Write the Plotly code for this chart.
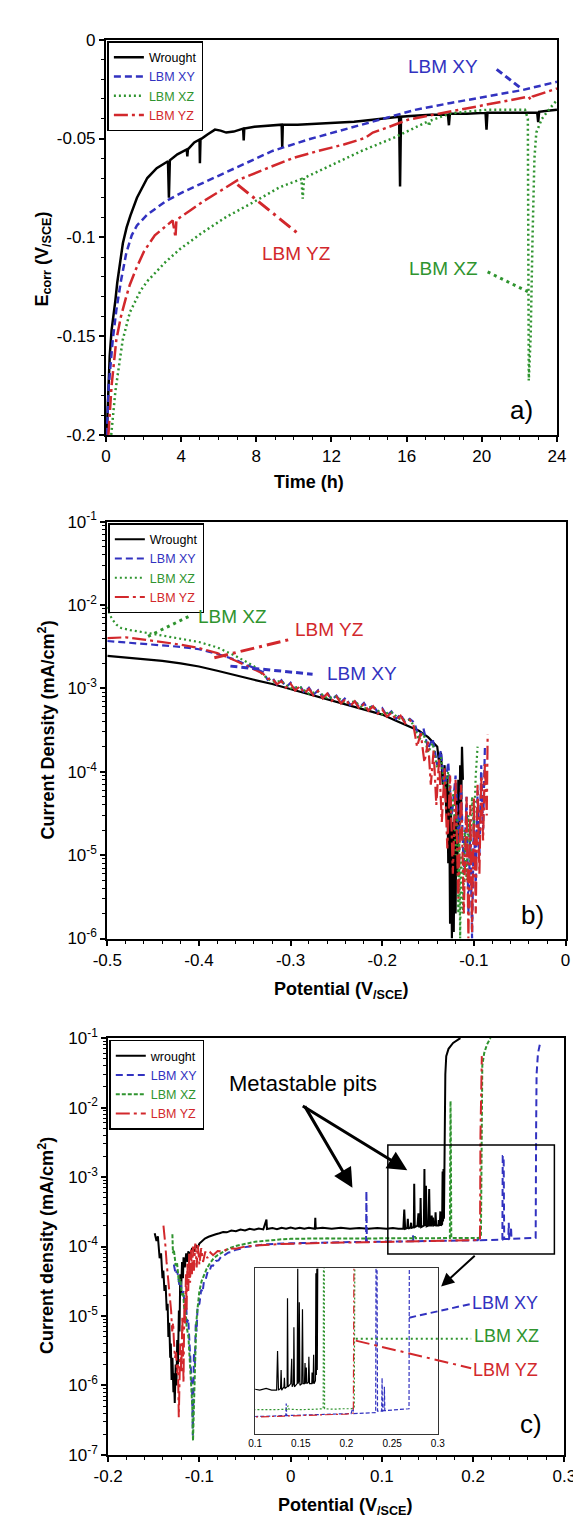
import plotly.graph_objects as go

W, H = 581, 1522
FONT = "Liberation Sans, Arial, Helvetica, sans-serif"
C_BLACK = "#000000"
C_BLUE = "#3232c0"
C_GREEN = "#2f942f"
C_RED = "#d2282c"

DASH_XY = "7px,4px"
DASH_XZ_DOT = "2px,3px"
DASH_XZ_SHORT = "4px,2px"
DASH_YZ = "14px,4px,3px,4px"

# ---------------- panel a : Ecorr vs time ----------------
A_WR_T = [0.04, 0.12, 0.2, 0.3, 0.4, 0.5, 0.6, 0.75, 0.9, 1.1, 1.3, 1.65, 2.2, 2.7, 3.3, 3.35, 3.4, 3.8, 4.3, 4.33,
          4.36, 4.7, 4.98, 5.0, 5.03, 5.4, 5.8, 6.1, 6.4, 6.8, 7.3, 7.33, 7.36, 7.9, 8.6, 9.35, 9.38, 9.41, 10.2, 11.2,
          12.2, 13.2, 14.2, 15.0, 15.6, 15.65, 15.7, 16.4, 17.3, 18.2, 18.25, 18.3, 19.2, 20.2, 20.25, 20.3, 21.2, 22.1,
          22.95, 23.0, 23.05, 23.5, 24.0]
A_WR_E = [-0.200, -0.180, -0.160, -0.147, -0.140, -0.132, -0.123, -0.112, -0.103, -0.095, -0.089, -0.080, -0.070,
          -0.065, -0.0615, -0.080, -0.061, -0.058, -0.0555, -0.059, -0.0555, -0.052, -0.0505, -0.0625, -0.0505, -0.048,
          -0.0455, -0.046, -0.047, -0.0465, -0.045, -0.051, -0.045, -0.044, -0.0435, -0.043, -0.0547, -0.043, -0.043,
          -0.0425, -0.042, -0.0415, -0.0405, -0.0395, -0.039, -0.0743, -0.039, -0.0385, -0.038, -0.038, -0.0433,
          -0.0375, -0.0375, -0.037, -0.0455, -0.037, -0.037, -0.037, -0.037, -0.0417, -0.0365, -0.036, -0.0355]

A_XY_T = [0.04, 0.15, 0.36, 0.55, 0.8, 1.08, 1.37, 1.65, 2.2, 3.17, 4.12, 5.45, 6.96, 8.86, 10.76, 12.66, 14.55,
          16.45, 18.35, 20.25, 22.15, 24.0]
A_XY_E = [-0.200, -0.175, -0.152, -0.137, -0.122, -0.108, -0.099, -0.094, -0.0885, -0.0818, -0.077, -0.0713, -0.0647,
          -0.0563, -0.0505, -0.0455, -0.0405, -0.0355, -0.032, -0.0288, -0.0255, -0.0213]

A_XZ_T = [0.28, 0.5, 0.89, 1.27, 1.84, 2.22, 3.17, 3.93, 5.07, 6.4, 7.7, 9.24, 10.4, 10.47, 10.54, 12.1, 13.6, 15.3,
          16.45, 17.15, 17.2, 17.25, 18.35, 20.25, 22.3, 22.45, 22.5, 22.6, 22.7, 22.8, 22.9, 23.2, 23.6, 24.0]
A_XZ_E = [-0.200, -0.178, -0.152, -0.138, -0.127, -0.122, -0.1125, -0.106, -0.098, -0.0897, -0.083, -0.0747, -0.0705,
          -0.0805, -0.070, -0.063, -0.0563, -0.0497, -0.0447, -0.0413, -0.0438, -0.041, -0.0372, -0.0355, -0.0355,
          -0.040, -0.1725, -0.150, -0.100, -0.060, -0.047, -0.040, -0.035, -0.0305]

A_YZ_T = [0.13, 0.3, 0.55, 0.8, 1.08, 1.27, 1.6, 2.03, 2.6, 3.55, 3.7, 3.75, 4.5, 5.26, 6.4, 6.96, 8.67, 10.0, 11.3,
          12.66, 13.8, 14.2, 14.9, 16.07, 17.4, 19.3, 21.2, 22.5, 22.6, 22.7, 24.0]
A_YZ_E = [-0.200, -0.175, -0.152, -0.140, -0.130, -0.124, -0.116, -0.107, -0.099, -0.0915, -0.100, -0.0912, -0.0863,
          -0.0813, -0.0747, -0.0713, -0.0647, -0.0597, -0.0563, -0.053, -0.0497, -0.047, -0.0447, -0.0405, -0.038,
          -0.0347, -0.0313, -0.0288, -0.0305, -0.0288, -0.0247]

# ---------------- panel b : cathodic polarisation ----------------
B_WR_V = [-0.500, -0.480, -0.460, -0.440, -0.420, -0.400, -0.380, -0.360, -0.340, -0.320, -0.300, -0.280, -0.260,
          -0.240, -0.220, -0.200, -0.185, -0.170, -0.160, -0.150, -0.145, -0.140,
          -0.138, -0.136, -0.134, -0.132, -0.130, -0.129, -0.128, -0.127, -0.126, -0.125, -0.124, -0.123, -0.122,
          -0.121, -0.120, -0.119, -0.118, -0.117, -0.116, -0.115, -0.114, -0.113, -0.112]
B_WR_I = [2.45e-3, 2.35e-3, 2.25e-3, 2.14e-3, 2.0e-3, 1.83e-3, 1.63e-3, 1.43e-3, 1.27e-3, 1.13e-3, 9.8e-4, 8.5e-4,
          7.4e-4, 6.4e-4, 5.6e-4, 4.85e-4, 4.1e-4, 3.5e-4, 3.1e-4, 2.6e-4, 2.3e-4, 2.0e-4,
          1.3e-4, 1.7e-4, 7e-5, 1.2e-4, 3e-5, 9e-5, 8e-6, 6e-5, 1.5e-6, 4e-5, 1e-6, 2.5e-5, 1.2e-6, 3e-5, 2e-6, 5e-5,
          6e-6, 8e-5, 1.5e-5, 1.2e-4, 3e-5, 2e-4, 8e-5]

B_MID_V = [-0.330, -0.325, -0.320, -0.315, -0.310, -0.305, -0.300, -0.295, -0.290, -0.285, -0.280, -0.275, -0.270,
           -0.265, -0.260, -0.255, -0.250, -0.245, -0.240, -0.235, -0.230, -0.225, -0.220, -0.215, -0.210, -0.205,
           -0.200, -0.195, -0.190, -0.185, -0.180, -0.175, -0.170]

B_XY_V = [-0.500, -0.480, -0.460, -0.440, -0.420, -0.400, -0.380, -0.360, -0.340] + B_MID_V + \
         [-0.165, -0.160, -0.155, -0.150, -0.145, -0.140, -0.136, -0.132, -0.128, -0.124, -0.120, -0.117, -0.114,
          -0.111, -0.108, -0.106, -0.104, -0.102, -0.100, -0.098, -0.096, -0.094, -0.092, -0.090, -0.088]
B_XY_I = [3.7e-3, 3.55e-3, 3.42e-3, 3.3e-3, 3.15e-3, 2.95e-3, 2.6e-3, 2.2e-3, 1.75e-3,
          1.57e-3, 1.27e-3, 1.35e-3, 1.11e-3, 1.25e-3, 1.03e-3, 1.17e-3, 0.96e-3, 1.08e-3, 0.89e-3, 1.02e-3, 0.84e-3,
          0.95e-3, 0.78e-3, 0.89e-3, 0.73e-3, 0.82e-3, 0.68e-3, 0.77e-3, 0.63e-3, 0.71e-3, 0.59e-3, 0.67e-3, 0.55e-3,
          0.63e-3, 0.52e-3, 0.58e-3, 0.47e-3, 0.53e-3, 0.43e-3, 0.49e-3, 0.39e-3, 0.43e-3,
          3.9e-4, 2.6e-4, 3.3e-4, 1.9e-4, 2.5e-4, 1.2e-4, 1.8e-4, 6e-5, 1.3e-4, 3e-5, 9e-5, 1.5e-5, 7e-5, 6e-6, 5e-5,
          2e-6, 2e-5, 1e-6, 3e-5, 4e-6, 6e-5, 1e-5, 1.2e-4, 2e-5, 2e-4]

B_XZ_V = [-0.500, -0.497, -0.494, -0.490, -0.485, -0.475, -0.460, -0.440, -0.420, -0.400, -0.380, -0.360, -0.340,
          -0.330, -0.320, -0.310, -0.300, -0.290, -0.280, -0.270, -0.260, -0.250, -0.240, -0.230, -0.220, -0.210,
          -0.200, -0.190, -0.180, -0.170,
          -0.165, -0.160, -0.155, -0.150, -0.145, -0.140, -0.136, -0.132, -0.128, -0.125, -0.122, -0.120, -0.118,
          -0.117, -0.116, -0.115, -0.114, -0.112, -0.110, -0.108, -0.106, -0.104, -0.102, -0.100, -0.098, -0.096]
B_XZ_I = [9.5e-3, 7.5e-3, 6.6e-3, 5.8e-3, 5.3e-3, 5.0e-3, 4.7e-3, 4.3e-3, 3.95e-3, 3.6e-3, 3.1e-3, 2.45e-3, 1.85e-3,
          1.45e-3, 1.2e-3, 1.22e-3, 1.0e-3, 1.05e-3, 0.86e-3, 0.92e-3, 0.76e-3, 0.80e-3, 0.66e-3, 0.70e-3, 0.57e-3,
          0.61e-3, 0.49e-3, 0.52e-3, 0.42e-3, 0.42e-3,
          3.5e-4, 2.4e-4, 2.9e-4, 1.7e-4, 2.2e-4, 1.1e-4, 1.5e-4, 6e-5, 1e-4, 3e-5, 6e-5, 1e-5, 3e-5, 2e-6, 1.5e-5,
          1e-6, 1e-5, 2e-6, 2e-5, 5e-6, 3e-5, 8e-6, 5e-5, 2e-5, 9e-5, 2e-4]

B_YZ_V = [-0.500, -0.480, -0.460, -0.440, -0.420, -0.400, -0.380, -0.360, -0.340] + B_MID_V + \
         [-0.166, -0.162, -0.158, -0.154, -0.150, -0.147, -0.144, -0.141, -0.138, -0.135, -0.132, -0.129, -0.126,
          -0.123, -0.120, -0.117, -0.114, -0.111, -0.108, -0.106, -0.104, -0.102, -0.100, -0.098, -0.096, -0.094,
          -0.092, -0.090, -0.088, -0.086, -0.085]
B_YZ_I = [4.0e-3, 4.1e-3, 3.85e-3, 3.6e-3, 3.35e-3, 3.05e-3, 2.65e-3, 2.15e-3, 1.7e-3,
          1.5e-3, 1.3e-3, 1.32e-3, 1.12e-3, 1.22e-3, 1.02e-3, 1.14e-3, 0.94e-3, 1.06e-3, 0.87e-3, 0.99e-3, 0.82e-3,
          0.93e-3, 0.76e-3, 0.87e-3, 0.71e-3, 0.80e-3, 0.66e-3, 0.75e-3, 0.61e-3, 0.70e-3, 0.57e-3, 0.65e-3, 0.54e-3,
          0.61e-3, 0.50e-3, 0.56e-3, 0.46e-3, 0.51e-3, 0.42e-3, 0.47e-3, 0.38e-3, 0.42e-3,
          3.6e-4, 2.0e-4, 2.9e-4, 1.3e-4, 2.3e-4, 7e-5, 1.8e-4, 4e-5, 1.4e-4, 2.5e-5, 1.1e-4, 1.2e-5, 9e-5, 6e-6,
          8e-5, 3e-6, 7e-5, 2e-6, 5e-5, 1e-6, 4e-5, 1.2e-6, 5e-5, 2e-6, 7e-5, 6e-6, 9e-5, 1.5e-5, 1.3e-4, 3e-5, 2.8e-4]

# ---------------- panel c : anodic polarisation ----------------
C_WR_V = [-0.149, -0.147, -0.1455, -0.1436, -0.142, -0.1405, -0.1395, -0.1383, -0.137, -0.1358, -0.1348, -0.134,
          -0.133, -0.132, -0.1313, -0.1305, -0.1295, -0.1285, -0.128, -0.127, -0.126, -0.1252, -0.1243, -0.1235,
          -0.1225, -0.1218, -0.121, -0.1202, -0.119, -0.118, -0.1174, -0.116, -0.1145, -0.113, -0.1122, -0.110,
          -0.108, -0.106, -0.104, -0.102, -0.100,
          -0.098, -0.094, -0.090, -0.086, -0.082, -0.078, -0.074, -0.070, -0.065, -0.060, -0.055, -0.050, -0.045,
          -0.040, -0.035, -0.030, -0.0265, -0.026, -0.020, -0.015, -0.010, -0.005, 0.000, 0.005, 0.010, 0.015, 0.020,
          0.0265, 0.027, 0.0275, 0.035, 0.045, 0.055, 0.065, 0.075, 0.085, 0.095, 0.105, 0.112, 0.118,
          0.1235, 0.1245, 0.1255, 0.1278, 0.1284, 0.129, 0.1315, 0.132, 0.1325, 0.135, 0.1354, 0.136, 0.139, 0.140,
          0.1405, 0.142, 0.1424, 0.143, 0.146, 0.1466, 0.147, 0.1478, 0.1483, 0.149, 0.151, 0.1518, 0.1525, 0.154,
          0.1546, 0.155, 0.156, 0.1565, 0.1583, 0.1588, 0.1595, 0.162, 0.1623, 0.163, 0.1635, 0.164, 0.1645, 0.166,
          0.1665, 0.167, 0.1675, 0.168, 0.1685, 0.169, 0.1695, 0.1705, 0.173, 0.178, 0.186]
C_WR_I = [1.55e-4, 1.2e-4, 1.4e-4, 6.8e-5, 8e-5, 3.5e-5, 4.5e-5, 2.3e-5, 2.8e-5, 1.2e-5, 1.5e-5, 5e-6, 8e-6, 2.5e-6,
          4e-6, 1.2e-6, 2.5e-6, 8e-7, 1.5e-6, 5.6e-7, 2e-6, 1e-6, 4.5e-6, 2e-6, 1.2e-5, 6e-6, 4e-5, 2e-5, 6e-5,
          3.5e-5, 7e-5, 5e-5, 8e-5, 6e-5, 8.5e-5, 7.5e-5, 9.5e-5, 8.5e-5, 1.05e-4, 9.5e-5, 1.1e-4,
          1.17e-4, 1.3e-4, 1.38e-4, 1.45e-4, 1.5e-4, 1.55e-4, 1.62e-4, 1.6e-4, 1.7e-4, 1.66e-4, 1.76e-4, 1.7e-4,
          1.8e-4, 1.74e-4, 1.82e-4, 1.76e-4, 2.45e-4, 1.78e-4, 1.84e-4, 1.78e-4, 1.86e-4, 1.8e-4, 1.87e-4, 1.8e-4,
          1.86e-4, 1.8e-4, 1.86e-4, 1.8e-4, 2.6e-4, 1.82e-4, 1.86e-4, 1.8e-4, 1.86e-4, 1.8e-4, 1.85e-4, 1.8e-4,
          1.85e-4, 1.8e-4, 1.85e-4, 1.8e-4,
          1.8e-4, 3.4e-4, 1.8e-4, 1.85e-4, 2.5e-4, 1.8e-4, 1.9e-4, 2.2e-4, 1.85e-4, 1.9e-4, 8e-4, 1.9e-4, 2.0e-4,
          3.0e-4, 1.9e-4, 2.0e-4, 5e-4, 1.9e-4, 2.0e-4, 1.3e-3, 2.0e-4, 2.1e-4, 7.5e-4, 1.95e-4, 2.0e-4, 6.7e-4,
          2.0e-4, 2.0e-4, 2.8e-4, 2.0e-4, 2.6e-4, 2.0e-4, 2.05e-4, 3.1e-4, 2.0e-4, 2.0e-4, 2.4e-4, 2.0e-4, 2.05e-4,
          3.2e-4, 2.0e-4, 2.1e-4, 1.2e-3, 2.3e-4, 1.3e-3, 2.5e-4, 3e-3, 1e-2, 3e-2, 5.5e-2, 7e-2, 8.5e-2, 1e-1]

C_XY_V = [-0.128, -0.126, -0.1243, -0.122, -0.1205, -0.119, -0.1175, -0.116, -0.1146, -0.1135, -0.1122, -0.111,
          -0.110, -0.109, -0.108, -0.1072, -0.1065, -0.106, -0.105, -0.104, -0.103, -0.102, -0.100, -0.098, -0.0965,
          -0.095, -0.093, -0.091, -0.089, -0.087, -0.085, -0.082, -0.079, -0.076, -0.072, -0.068, -0.064, -0.060,
          -0.055, -0.050, -0.045, -0.040, -0.035, -0.030, -0.025, -0.020, -0.010, 0.000, 0.010, 0.020, 0.030, 0.040,
          0.050, 0.060, 0.070, 0.080, 0.0826, 0.083, 0.0835, 0.090, 0.100, 0.110, 0.120, 0.130, 0.1335, 0.134,
          0.1345, 0.150, 0.170, 0.190, 0.205, 0.207, 0.208, 0.220, 0.232, 0.2324, 0.2334, 0.234, 0.236, 0.2385,
          0.239, 0.2395, 0.241, 0.2415, 0.242, 0.250, 0.260, 0.2685, 0.269, 0.2695, 0.271, 0.273]
C_XY_I = [5.5e-5, 4e-5, 4.5e-5, 2.8e-5, 3.2e-5, 2e-5, 2.3e-5, 1.3e-5, 1.5e-5, 8e-6, 9e-6, 4e-6, 3.5e-6, 1.6e-6, 8e-7,
          1.9e-7, 6e-7, 3e-6, 2e-6, 8e-6, 6e-6, 1.4e-5, 1.5e-5, 2.4e-5, 2.2e-5, 3.2e-5, 3.4e-5, 4.3e-5, 4.4e-5,
          5.3e-5, 5.3e-5, 6.2e-5, 6.3e-5, 7.2e-5, 7.6e-5, 8.2e-5, 8.4e-5, 9.0e-5, 9.3e-5, 9.8e-5, 1.0e-4, 1.03e-4,
          1.05e-4, 1.07e-4, 1.08e-4, 1.09e-4, 1.1e-4, 1.11e-4, 1.12e-4, 1.13e-4, 1.14e-4, 1.14e-4, 1.15e-4, 1.15e-4,
          1.16e-4, 1.16e-4, 1.16e-4, 6.3e-4, 1.16e-4, 1.17e-4, 1.17e-4, 1.18e-4, 1.18e-4, 1.19e-4, 1.19e-4,
          1.45e-4, 1.19e-4, 1.2e-4, 1.21e-4, 1.22e-4, 1.23e-4, 1.35e-4, 1.23e-4, 1.24e-4, 1.25e-4, 2.0e-3, 2.0e-3,
          1.28e-4, 1.28e-4, 1.28e-4, 2.2e-4, 1.28e-4, 1.29e-4, 1.9e-4, 1.29e-4, 1.3e-4, 1.31e-4, 1.33e-4, 5e-3,
          3e-2, 6e-2, 8e-2]

C_XZ_V = [-0.1296, -0.129, -0.128, -0.126, -0.1245, -0.1226, -0.121, -0.1192, -0.1178, -0.1165, -0.115, -0.114,
          -0.112, -0.1104, -0.1095, -0.1087, -0.1078, -0.107, -0.1062, -0.1052, -0.1043, -0.1035, -0.102, -0.100,
          -0.0975, -0.0948, -0.092, -0.089, -0.0843, -0.080, -0.075, -0.0669, -0.060, -0.050, -0.039, -0.030, -0.020,
          -0.010, 0.000, 0.020, 0.040, 0.060, 0.080, 0.100, 0.120, 0.135, 0.136, 0.137, 0.150, 0.165, 0.1745, 0.175,
          0.1752, 0.1755, 0.176, 0.185, 0.195, 0.205, 0.2085, 0.209, 0.2095, 0.210, 0.212, 0.215, 0.219]
C_XZ_I = [1.5e-4, 8e-5, 9e-5, 5.3e-5, 5.8e-5, 3.1e-5, 3.4e-5, 2e-5, 2.2e-5, 1.2e-5, 1.1e-5, 7e-6, 5e-6, 2.5e-6,
          1.6e-6, 8.5e-7, 5e-7, 1.6e-7, 4e-7, 1.1e-6, 3e-6, 7.8e-6, 1.3e-5, 2.3e-5, 3.2e-5, 4e-5, 4.8e-5, 5.6e-5,
          6.8e-5, 7.5e-5, 8.3e-5, 9.5e-5, 1.02e-4, 1.1e-4, 1.17e-4, 1.2e-4, 1.24e-4, 1.27e-4, 1.29e-4, 1.31e-4,
          1.31e-4, 1.3e-4, 1.31e-4, 1.3e-4, 1.31e-4, 1.32e-4, 1.4e-4, 1.32e-4, 1.31e-4, 1.32e-4, 1.33e-4, 5e-3,
          1.24e-2, 5e-3, 1.33e-4, 1.32e-4, 1.33e-4, 1.33e-4, 1.35e-4, 3e-3, 2e-2, 4e-2, 6e-2, 8e-2, 1e-1]

C_YZ_V = [-0.1394, -0.1385, -0.1373, -0.136, -0.1348, -0.1335, -0.1322, -0.131, -0.1298, -0.1288, -0.128, -0.1268,
          -0.1255, -0.1245, -0.1235, -0.1226, -0.1218, -0.121, -0.1198, -0.1187, -0.1174, -0.1165, -0.1157, -0.1148,
          -0.114, -0.1132, -0.1122, -0.1112, -0.1102, -0.1092, -0.1082, -0.107, -0.106, -0.1045, -0.103, -0.1017,
          -0.100, -0.098, -0.096, -0.0935, -0.0913, -0.088, -0.085, -0.080, -0.074, -0.068, -0.060, -0.050, -0.039,
          -0.030, -0.020, -0.010, 0.000, 0.020, 0.040, 0.060, 0.080, 0.100, 0.120, 0.140, 0.160, 0.180, 0.200,
          0.2075, 0.208, 0.2085, 0.209, 0.2095]
C_YZ_I = [2e-4, 1.3e-4, 1.05e-4, 6e-5, 4e-5, 2.5e-5, 1.6e-5, 1.2e-5, 6e-6, 8e-6, 4.5e-6, 2.5e-6, 3e-6, 1.5e-6, 2e-6,
          3.5e-7, 1.1e-6, 4e-6, 1.5e-6, 1e-5, 1.1e-6, 1.5e-5, 7.8e-6, 4e-5, 1.2e-5, 6e-5, 2.3e-5, 8e-5, 3e-5, 9e-5,
          4e-5, 1.0e-4, 4.5e-5, 1.1e-4, 5e-5, 1.05e-4, 5.5e-5, 9.5e-5, 6e-5, 8.5e-5, 6.8e-5, 8.2e-5, 7.5e-5, 8.6e-5,
          8.5e-5, 9.4e-5, 9.3e-5, 1.0e-4, 1.03e-4, 1.06e-4, 1.07e-4, 1.09e-4, 1.1e-4, 1.12e-4, 1.13e-4, 1.14e-4,
          1.15e-4, 1.16e-4, 1.17e-4, 1.18e-4, 1.19e-4, 1.2e-4, 1.22e-4, 1.24e-4, 4e-3, 2e-2, 4e-2, 5.5e-2]

# tick labels
A_XTICKS = [0, 4, 8, 12, 16, 20, 24]
A_YTICKS = [0, -0.05, -0.1, -0.15, -0.2]
A_YTEXT = ["0", "-0.05", "-0.1", "-0.15", "-0.2"]
B_XTICKS = [-0.5, -0.4, -0.3, -0.2, -0.1, 0]
B_XTEXT = ["-0.5", "-0.4", "-0.3", "-0.2", "-0.1", "0"]
C_XTICKS = [-0.2, -0.1, 0, 0.1, 0.2, 0.3]
C_XTEXT = ["-0.2", "-0.1", "0", "0.1", "0.2", "0.3"]
I_XTICKS = [0.1, 0.15, 0.2, 0.25, 0.3]
I_XTEXT = ["0.1", "0.15", "0.2", "0.25", "0.3"]


def xp(p):
    return p / W


def yp(p):
    return 1 - p / H


def xdom(a, b):
    return [xp(a), xp(b)]


def ydom(top, bot):
    return [yp(bot), yp(top)]


fig = go.Figure()


def add(x, y, name, color, width, dash, xa, ya, legend=None, show=True):
    fig.add_trace(go.Scatter(x=x, y=y, mode="lines", name=name,
                             line=dict(color=color, width=width, dash=dash),
                             xaxis=xa, yaxis=ya, legend=legend, showlegend=show, hoverinfo="skip"))


def nm(t, c):
    return f"<span style='color:{c}'>{t}</span>"


# panel a
add(A_WR_T, A_WR_E, nm("Wrought", C_BLACK), C_BLACK, 2.5, "solid", "x", "y", "legend")
add(A_XY_T, A_XY_E, nm("LBM XY", C_BLUE), C_BLUE, 2.5, DASH_XY, "x", "y", "legend")
add(A_XZ_T, A_XZ_E, nm("LBM XZ", C_GREEN), C_GREEN, 2.5, DASH_XZ_DOT, "x", "y", "legend")
add(A_YZ_T, A_YZ_E, nm("LBM YZ", C_RED), C_RED, 2.5, DASH_YZ, "x", "y", "legend")
# panel b
add(B_WR_V, B_WR_I, nm("Wrought", C_BLACK), C_BLACK, 2.2, "solid", "x2", "y2", "legend2")
add(B_XY_V, B_XY_I, nm("LBM XY", C_BLUE), C_BLUE, 2.2, DASH_XY, "x2", "y2", "legend2")
add(B_XZ_V, B_XZ_I, nm("LBM XZ", C_GREEN), C_GREEN, 2.2, DASH_XZ_DOT, "x2", "y2", "legend2")
add(B_YZ_V, B_YZ_I, nm("LBM YZ", C_RED), C_RED, 2.2, DASH_YZ, "x2", "y2", "legend2")
# panel c
add(C_WR_V, C_WR_I, nm("wrought", C_BLACK), C_BLACK, 2, "solid", "x3", "y3", "legend3")
add(C_XY_V, C_XY_I, nm("LBM XY", C_BLUE), C_BLUE, 2, DASH_XY, "x3", "y3", "legend3")
add(C_XZ_V, C_XZ_I, nm("LBM XZ", C_GREEN), C_GREEN, 2, DASH_XZ_SHORT, "x3", "y3", "legend3")
add(C_YZ_V, C_YZ_I, nm("LBM YZ", C_RED), C_RED, 2, DASH_YZ, "x3", "y3", "legend3")
# inset
add(C_WR_V, C_WR_I, "w", C_BLACK, 1.2, "solid", "x4", "y4", show=False)
add(C_XY_V, C_XY_I, "xy", C_BLUE, 1.2, "4px,2px", "x4", "y4", show=False)
add(C_XZ_V, C_XZ_I, "xz", C_GREEN, 1.2, "2px,2px", "x4", "y4", show=False)
add(C_YZ_V, C_YZ_I, "yz", C_RED, 1.2, "8px,3px,2px,3px", "x4", "y4", show=False)

TICKFONT = dict(family=FONT, size=17, color="black")


def axis(domain, rng, tickvals, ticktext, minorvals, anchor, **kw):
    d = dict(domain=domain, range=rng, anchor=anchor, showline=True, linecolor="black", linewidth=2,
             mirror=True, ticks="outside", ticklen=5, tickwidth=1.5, tickcolor="black", tickmode="array",
             tickvals=tickvals, ticktext=ticktext, tickfont=TICKFONT, showgrid=False, zeroline=False,
             minor=dict(tickmode="array", tickvals=minorvals, ticks="outside", ticklen=3, tickwidth=1.2,
                        tickcolor="black", showgrid=False))
    d.update(kw)
    return d


def logminor(e0, e1):
    return [k * 10.0 ** e for e in range(e0, e1) for k in range(2, 10)]


def linminor(a, b, step, majors):
    out = []
    n = int(round((b - a) / step))
    for i in range(n + 1):
        v = round(a + i * step, 4)
        if all(abs(v - m) > 1e-6 for m in majors):
            out.append(v)
    return out


b_log_ticks = [1e-6, 1e-5, 1e-4, 1e-3, 1e-2, 1e-1]
b_log_text = ["10<sup>-6</sup>", "10<sup>-5</sup>", "10<sup>-4</sup>", "10<sup>-3</sup>", "10<sup>-2</sup>",
              "10<sup>-1</sup>"]
c_log_ticks = [1e-7] + b_log_ticks
c_log_text = ["10<sup>-7</sup>"] + b_log_text

layout_axes = dict(
    xaxis=axis(xdom(87, 560), [0, 24], A_XTICKS, [str(v) for v in A_XTICKS], linminor(0, 24, 1, A_XTICKS), "y"),
    yaxis=axis(ydom(20, 421), [-0.2, 0], A_YTICKS, A_YTEXT, linminor(-0.2, 0, 0.01, A_YTICKS), "x"),
    xaxis2=axis(xdom(88.4, 569), [-0.5, 0], B_XTICKS, B_XTEXT, linminor(-0.5, 0, 0.02, B_XTICKS), "y2"),
    yaxis2=axis(ydom(509, 932), [-6, -1], b_log_ticks, b_log_text, logminor(-6, -1), "x2", type="log"),
    xaxis3=axis(xdom(89.3, 567.8), [-0.2, 0.3], C_XTICKS, C_XTEXT, linminor(-0.2, 0.3, 0.02, C_XTICKS), "y3"),
    yaxis3=axis(ydom(1033, 1456), [-7, -1], c_log_ticks, c_log_text, logminor(-7, -1), "x3", type="log"),
    xaxis4=dict(domain=xdom(243.5, 435), range=[0.1, 0.3], anchor="y4", showline=True, linecolor="#333333",
                linewidth=1, mirror=True, ticks="", tickmode="array", tickvals=I_XTICKS, ticktext=I_XTEXT,
                tickfont=dict(family=FONT, size=10, color="black"), showgrid=False, zeroline=False),
    yaxis4=dict(domain=ydom(1266.7, 1435), range=[-4.056, -2.886], type="log", anchor="x4", showline=True,
                linecolor="#333333", linewidth=1, mirror=True, ticks="", showticklabels=False, showgrid=False,
                zeroline=False),
)


def legend_at(px, py):
    return dict(x=xp(px), y=yp(py), xanchor="left", yanchor="top", bgcolor="white", bordercolor="black",
                borderwidth=1.5, font=dict(family=FONT, size=12.5, color="black"), tracegroupgap=0,
                itemwidth=30, traceorder="normal")


annotations = []


def txt(x, y, text, size, color="black", xref="paper", yref="paper", angle=0):
    annotations.append(dict(x=x, y=y, xref=xref, yref=yref, text=text, showarrow=False, textangle=angle,
                            font=dict(family=FONT, size=size, color=color), xanchor="center", yanchor="middle"))


# axis titles
txt(xp(300), yp(469), "<b>Time (h)</b>", 18)
txt(xp(21), yp(243), "<b>E<sub>corr</sub> (V<sub>/SCE</sub>)</b>", 18, angle=-90)
txt(xp(25), yp(720), "<b>Current Density (mA/cm<sup>2</sup>)</b>", 18, angle=-90)
txt(xp(334), yp(985), "<b>Potential (V<sub>/SCE</sub>)</b>", 18)
txt(xp(24), yp(1243), "<b>Current density (mA/cm<sup>2</sup>)</b>", 18, angle=-90)
txt(xp(338), yp(1508), "<b>Potential (V<sub>/SCE</sub>)</b>", 18)

# panel labels
txt(22.1, -0.1875, "a)", 26, xref="x", yref="y")
txt(-0.036, -5.72, "b)", 26, xref="x2", yref="y2")
txt(xp(533), yp(1425), "c)", 26)

# series labels panel a
txt(17.94, -0.0134, "LBM XY", 19, C_BLUE, "x", "y")
txt(10.14, -0.1083, "LBM YZ", 19, C_RED, "x", "y")
txt(17.94, -0.1158, "LBM XZ", 19, C_GREEN, "x", "y")
# panel b
txt(-0.3638, -2.139, "LBM XZ", 19, C_GREEN, "x2", "y2")
txt(-0.2572, -2.297, "LBM YZ", 19, C_RED, "x2", "y2")
txt(-0.222, -2.823, "LBM XY", 19, C_BLUE, "x2", "y2")
# panel c
txt(xp(294), yp(1079), "Metastable pits", 22)
txt(xp(506), yp(1302), "LBM XY", 18, C_BLUE)
txt(xp(507), yp(1335), "LBM XZ", 18, C_GREEN)
txt(xp(506), yp(1370), "LBM YZ", 18, C_RED)


def arrow(hx, hy, tx, ty, width, size):
    annotations.append(dict(x=xp(hx), y=yp(hy), xref="paper", yref="paper", text="", showarrow=True,
                            arrowhead=2, arrowsize=size, arrowwidth=width, arrowcolor="black",
                            ax=tx - hx, ay=ty - hy))


arrow(345.5, 1185, 297, 1102, 3, 1.3)
arrow(403, 1167, 297, 1102, 3, 1.3)
arrow(438.5, 1285, 473.6, 1253, 2, 1.3)

shapes = []


def seg(x0, y0, x1, y1, color, dash, width=3, xref="paper", yref="paper"):
    shapes.append(dict(type="line", x0=x0, y0=y0, x1=x1, y1=y1, xref=xref, yref=yref,
                       line=dict(color=color, width=width, dash=dash)))


# leaders panel a
seg(20.79, -0.015, 22.03, -0.0242, C_BLUE, "7px,4px", xref="x", yref="y")
seg(7.0, -0.0733, 10.14, -0.0975, C_RED, "14px,5px,3px,5px", xref="x", yref="y")
seg(20.31, -0.1175, 22.45, -0.1275, C_GREEN, "3px,4px", xref="x", yref="y")
# leaders panel b (data values on log axis)
seg(-0.4555, 4.2e-3, -0.4094, 7.46e-3, C_GREEN, "3px,4px", xref="x2", yref="y2")
seg(-0.3832, 2.33e-3, -0.3013, 3.85e-3, C_RED, "14px,5px,3px,5px", xref="x2", yref="y2")
seg(-0.3657, 1.85e-3, -0.276, 1.48e-3, C_BLUE, "7px,4px", xref="x2", yref="y2")
# leaders panel c
seg(xp(405), yp(1316.7), xp(470), yp(1302.7), C_BLUE, "7px,4px", 2)
seg(xp(349), yp(1338), xp(470), yp(1338), C_GREEN, "2px,3px", 2)
seg(xp(349), yp(1340), xp(470), yp(1368), C_RED, "14px,5px,3px,5px", 2)
# zoom rectangle
shapes.append(dict(type="rect", xref="x3", yref="y3", x0=0.1065, x1=0.289, y0=7.8e-5, y1=2.9e-3,
                   line=dict(color="black", width=1.5)))

fig.update_layout(
    width=W, height=H, margin=dict(l=0, r=0, t=0, b=0), paper_bgcolor="white", plot_bgcolor="white",
    font=dict(family=FONT, color="black"), showlegend=True,
    legend=legend_at(88.5, 21.5), legend2=legend_at(89.5, 510.5), legend3=legend_at(90.5, 1034.5),
    annotations=annotations, shapes=shapes, **layout_axes,
)

fig.write_html("out.html")
